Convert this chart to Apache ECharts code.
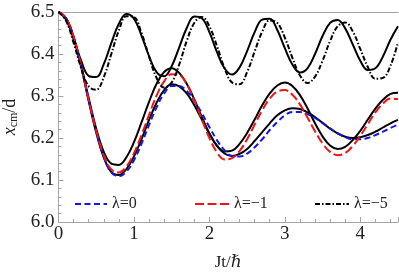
<!DOCTYPE html>
<html>
<head>
<meta charset="utf-8">
<script src="https://cdn.jsdelivr.net/npm/echarts@6/dist/echarts.min.js"></script>
<style>
html,body{margin:0;padding:0;background:#fff;}
#chart{width:399px;height:279px;}
</style>
</head>
<body>
<div id="chart"></div>
<script>
// time axis samples (Jt/hbar)
const tValues = [0,0.1,0.2,0.3,0.4,0.5,0.6,0.7,0.8,0.9,1.0,1.1,1.2,1.3,1.4,1.5,1.6,1.7,1.8,1.9,2.0,2.1,2.2,2.3,2.4,2.5,2.6,2.7,2.8,2.9,3.0,3.1,3.2,3.3,3.4,3.5,3.6,3.7,3.8,3.9,4.0,4.1,4.2,4.3,4.4,4.5];
// dashed / dash-dot series (legend)
const lam0 = [6.5,6.485,6.441,6.371,6.291,6.215,6.155,6.118,6.109,6.120,6.147,6.186,6.231,6.273,6.306,6.324,6.324,6.312,6.289,6.259,6.226,6.195,6.171,6.157,6.156,6.163,6.178,6.197,6.219,6.238,6.254,6.262,6.262,6.257,6.248,6.236,6.223,6.211,6.202,6.197,6.197,6.200,6.207,6.215,6.224,6.232];
const lam1 = [6.5,6.485,6.441,6.372,6.291,6.217,6.159,6.125,6.118,6.132,6.164,6.207,6.255,6.301,6.335,6.352,6.350,6.328,6.290,6.244,6.200,6.166,6.149,6.152,6.169,6.197,6.232,6.266,6.294,6.311,6.314,6.303,6.280,6.249,6.216,6.187,6.167,6.159,6.164,6.181,6.205,6.233,6.261,6.282,6.294,6.293];
const lam5 = [6.5,6.479,6.427,6.367,6.323,6.315,6.345,6.400,6.456,6.490,6.488,6.450,6.394,6.343,6.320,6.332,6.375,6.431,6.474,6.488,6.466,6.419,6.367,6.332,6.328,6.357,6.406,6.453,6.480,6.474,6.439,6.391,6.349,6.331,6.346,6.384,6.431,6.466,6.475,6.454,6.412,6.369,6.341,6.343,6.372,6.428];
// solid black reference curves
const solid0 = [6.5,6.484,6.440,6.370,6.288,6.213,6.154,6.119,6.112,6.126,6.156,6.197,6.243,6.284,6.314,6.328,6.323,6.306,6.278,6.244,6.210,6.181,6.163,6.157,6.162,6.174,6.193,6.214,6.235,6.254,6.266,6.271,6.269,6.261,6.250,6.236,6.222,6.211,6.203,6.200,6.202,6.207,6.215,6.225,6.235,6.243];
const solid1 = [6.5,6.485,6.440,6.372,6.295,6.222,6.167,6.139,6.136,6.154,6.190,6.237,6.286,6.329,6.357,6.366,6.355,6.329,6.292,6.250,6.211,6.182,6.168,6.170,6.186,6.212,6.244,6.278,6.306,6.325,6.332,6.324,6.302,6.271,6.235,6.204,6.182,6.174,6.179,6.195,6.217,6.244,6.270,6.291,6.305,6.308];
const solid5 = [6.5,6.482,6.436,6.384,6.348,6.345,6.376,6.426,6.472,6.495,6.484,6.444,6.395,6.357,6.347,6.371,6.416,6.462,6.489,6.485,6.452,6.405,6.366,6.351,6.368,6.407,6.452,6.482,6.484,6.457,6.414,6.375,6.356,6.366,6.400,6.443,6.474,6.481,6.461,6.423,6.384,6.362,6.366,6.394,6.434,6.466];
const legendNames = ['λ=0','λ=−1','λ=−5'];

const pairs = arr => tValues.map((t,i)=>[t,arr[i]]);
const serif = 'Liberation Serif, DejaVu Serif, serif';
const gray = '#a6a6a6';
const chart = echarts.init(document.getElementById('chart'));

function solidSeries(arr){
  return {type:'line', data:pairs(arr), showSymbol:false, symbol:'none', smooth:0.4,
    silent:true, lineStyle:{color:'#000', width:2, type:'solid'}, z:2};
}
function legendSeries(name, arr, color, dash){
  return {name:name, type:'line', data:pairs(arr), showSymbol:false, symbol:'none', smooth:0.4,
    itemStyle:{color:color}, lineStyle:{color:color, width:2, type:dash}, z:3};
}
function legendAt(left, name, w){
  return {data:[name], left:left, top:196, padding:0, itemWidth:w, itemHeight:2, itemGap:5,
    itemStyle:{opacity:0},
    textStyle:{fontFamily:serif, fontSize:16, color:'#222'}, selectedMode:false};
}

chart.setOption({
  animation:false,
  backgroundColor:'#fff',
  grid:{left:58.5, right:1, top:12, bottom:57, containLabel:false, outerBoundsMode:'none'},
  legend:[legendAt(74, legendNames[0], 32), legendAt(194, legendNames[1], 34), legendAt(314, legendNames[2], 34)],
  xAxis:[
    {type:'value', min:0, max:4.5, interval:1, position:'bottom',
     name:'Jt/ℏ', nameLocation:'middle', nameGap:32,
     nameTextStyle:{fontFamily:serif, fontSize:17, color:'#222'},
     axisLine:{show:true, lineStyle:{color:gray, width:1}},
     axisTick:{show:true, inside:true, length:5, lineStyle:{color:gray}},
     axisLabel:{margin:3, fontFamily:serif, fontSize:19, color:'#222',
       formatter:v=> Math.abs(v-Math.round(v))<1e-9 ? String(Math.round(v)) : ''},
     splitLine:{show:false}},
    {type:'value', min:0, max:4.5, interval:0.2, position:'bottom',
     axisLine:{show:false}, axisTick:{show:true, inside:true, length:3, lineStyle:{color:gray}},
     axisLabel:{show:false}, splitLine:{show:false}},
    {type:'value', min:0, max:4.5, position:'top',
     axisLine:{show:true, lineStyle:{color:gray, width:1}}, axisTick:{show:false},
     axisLabel:{show:false}, splitLine:{show:false}}
  ],
  yAxis:[
    {type:'value', min:6.0, max:6.5, interval:0.1, position:'left',
     name:'{i|x}{s|cm}{n|/d}', nameLocation:'middle', nameGap:30, nameRotate:90,
     nameTextStyle:{color:'#222', rich:{
       i:{fontFamily:serif, fontStyle:'italic', fontSize:18, color:'#222', lineHeight:20},
       s:{fontFamily:serif, fontSize:12, color:'#222', verticalAlign:'bottom', lineHeight:8},
       n:{fontFamily:serif, fontSize:18, color:'#222', lineHeight:20}}},
     axisLine:{show:true, lineStyle:{color:gray, width:1}},
     axisTick:{show:true, inside:true, length:5, lineStyle:{color:gray}},
     minorTick:{show:true, splitNumber:5, length:3, lineStyle:{color:gray}},
     axisLabel:{margin:4, fontFamily:serif, fontSize:19, color:'#222', formatter:v=>v.toFixed(1)},
     splitLine:{show:false}},
    {type:'value', min:6.0, max:6.5, position:'right',
     axisLine:{show:true, lineStyle:{color:gray, width:1}}, axisTick:{show:false},
     axisLabel:{show:false}, splitLine:{show:false}}
  ],
  series:[
    solidSeries(solid0),
    solidSeries(solid1),
    solidSeries(solid5),
    legendSeries(legendNames[0], lam0, '#1414f0', [6,3.5]),
    legendSeries(legendNames[1], lam1, '#f01414', [9,3.5]),
    legendSeries(legendNames[2], lam5, '#000', [5,2,1.5,2])
  ]
});
</script>
</body>
</html>
